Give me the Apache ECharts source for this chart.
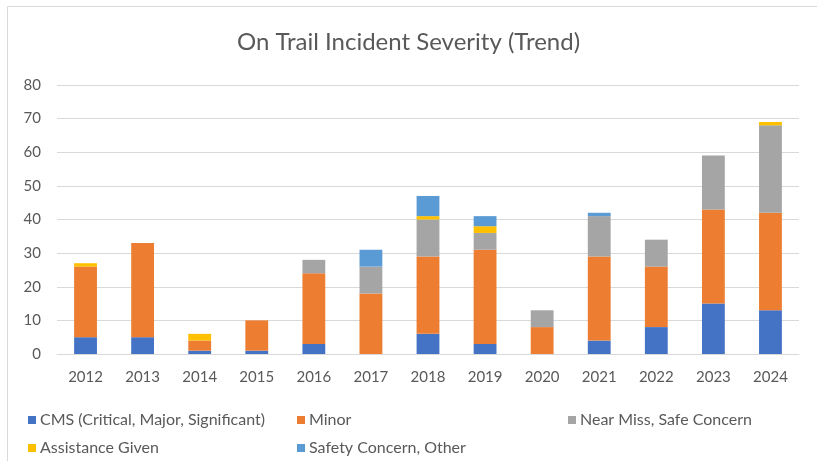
<!DOCTYPE html>
<html lang="en">
<head>
    <meta charset="UTF-8">
    <title>On Trail Incident Severity</title>
    <script src="https://cdn.jsdelivr.net/npm/echarts@6.0.0/dist/echarts.min.js"></script>
    <style>
        html, body { margin: 0; padding: 0; background: #fff; }
        #main { width: 817px; height: 461px; }
    </style>
</head>
<body>
    <div id="main"></div>
    <script type="text/javascript">
        // data, stack order bottom to top
        var years = ['2012', '2013', '2014', '2015', '2016', '2017', '2018', '2019', '2020', '2021', '2022', '2023', '2024'];
        var cms = [5, 5, 1, 1, 3, 0, 6, 3, 0, 4, 8, 15, 13];
        var minor = [21, 28, 3, 9, 21, 18, 23, 28, 8, 25, 18, 28, 29];
        var nearMiss = [0, 0, 0, 0, 4, 8, 11, 5, 5, 12, 8, 16, 26];
        var assistance = [1, 0, 2, 0, 0, 0, 1, 2, 0, 0, 0, 0, 1];
        var safetyOther = [0, 0, 0, 0, 0, 5, 6, 3, 0, 1, 0, 0, 0];

        var names = ['CMS (Critical, Major, Significant)', 'Minor', 'Near Miss, Safe Concern', 'Assistance Given', 'Safety Concern, Other'];
        var colors = ['#4472c4', '#ed7d31', '#a5a5a5', '#ffc000', '#5b9bd5'];
        var values = [cms, minor, nearMiss, assistance, safetyOther];

        // Lato is the closest installed match to Calibri's width
        var font = "Lato, 'Liberation Sans', sans-serif";
        var chart = echarts.init(document.getElementById('main'));

        // one legend per item so they sit in Excel's column layout
        var legendPos = [[28, 412], [297, 412], [568, 412], [28, 440], [297, 440]];
        var legends = names.map(function (n, i) {
            return {
                data: [n],
                left: legendPos[i][0],
                top: legendPos[i][1],
                padding: 0,
                icon: 'rect',
                itemWidth: 8,
                itemHeight: 8,
                itemGap: 4,
                selectedMode: false,
                textStyle: { color: '#595959', fontSize: 16, fontFamily: font, padding: [0, 0, 0, -1] }
            };
        });

        var series = names.map(function (n, i) {
            return {
                name: n,
                type: 'bar',
                stack: 'all',
                barWidth: '40%',
                itemStyle: { color: colors[i] },
                data: values[i]
            };
        });

        var option = {
            animation: false,
            title: {
                text: 'On Trail Incident Severity (Trend)',
                left: 'center',
                top: 25,
                textStyle: { color: '#595959', fontSize: 24, fontWeight: 'normal', fontFamily: font }
            },
            graphic: [{
                type: 'rect',
                shape: { x: 7.5, y: 6.5, width: 830, height: 480 },
                style: { fill: 'none', stroke: '#d9d9d9', lineWidth: 1 },
                silent: true
            }],
            legend: legends,
            grid: { left: 57, right: 18, top: 85, bottom: 107 },
            xAxis: {
                type: 'category',
                data: years,
                axisLine: { lineStyle: { color: '#d9d9d9' } },
                axisTick: { show: false },
                axisLabel: { color: '#595959', fontSize: 15, fontFamily: font, margin: 16 }
            },
            yAxis: {
                type: 'value',
                min: 0,
                max: 80,
                interval: 10,
                axisLine: { show: false },
                axisTick: { show: false },
                splitLine: { lineStyle: { color: '#d9d9d9' } },
                axisLabel: { color: '#595959', fontSize: 15, fontFamily: font, margin: 16 }
            },
            series: series
        };
        chart.setOption(option);
    </script>
</body>
</html>
